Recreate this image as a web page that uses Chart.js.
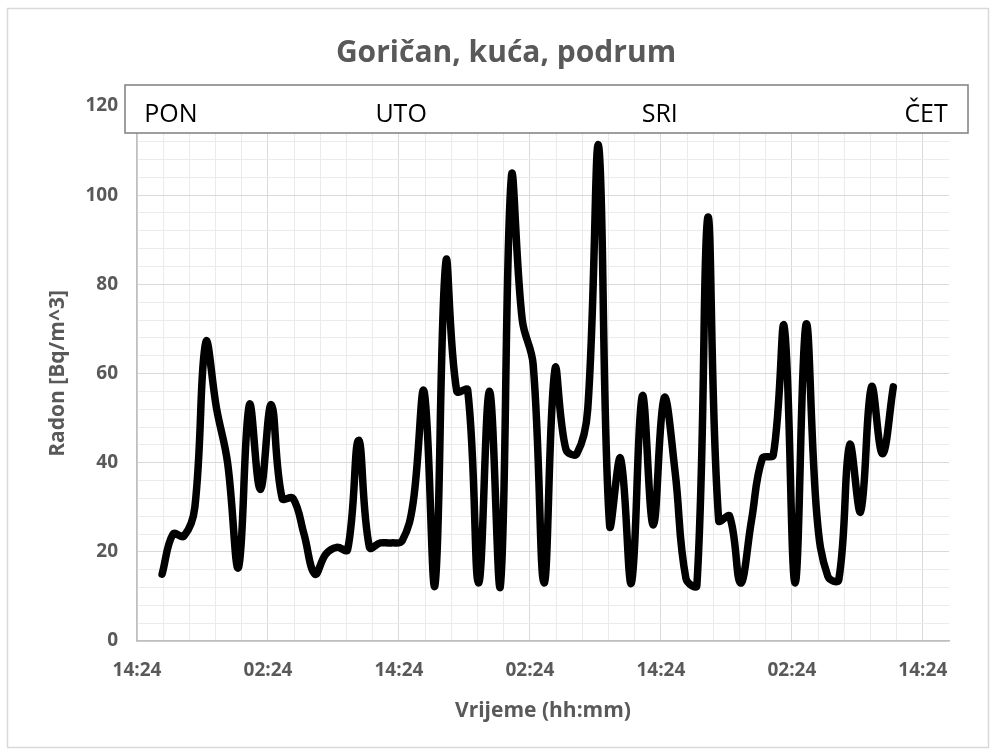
<!DOCTYPE html>
<html>
<head>
<meta charset="utf-8">
<script src="https://cdn.jsdelivr.net/npm/chart.js@4.4.0/dist/chart.umd.min.js"></script>
<style>
html,body{margin:0;padding:0;background:#fff;}
#wrap{width:995px;height:753px;position:relative;}
</style>
</head>
<body>
<div id="wrap"><canvas id="c" width="995" height="753"></canvas></div>
<script>
// ---- data ----
const chartTitle = 'Goričan, kuća, podrum';
const xAxisTitle = 'Vrijeme (hh:mm)';
const yAxisTitle = 'Radon [Bq/m^3]';
const dayLabels = ['PON', 'UTO', 'SRI', 'ČET'];
// sample times in hours since Monday 00:00
const sampleHours = [16.7, 17.7, 18.7, 19.7, 20.7, 21.7, 22.7, 23.7, 24.7, 25.7,
  26.7, 27.7, 28.7, 29.7, 30.7, 31.7, 32.7, 33.7, 34.7, 35.7,
  36.7, 37.7, 38.7, 39.7, 40.7, 41.7, 42.7, 43.7, 44.7, 45.7,
  46.7, 47.7, 48.7, 49.7, 50.7, 51.7, 52.7, 53.7, 54.7, 55.7,
  56.7, 57.7, 58.7, 59.7, 60.7, 61.7, 62.7, 63.7, 64.7, 65.7,
  66.7, 67.7, 68.7, 69.7, 70.7, 71.7, 72.7, 73.7, 74.7, 75.7,
  76.7, 77.7, 78.7, 79.7, 80.7, 81.7, 82.7, 83.7];
// radon concentration [Bq/m^3]
const radon = [15, 24, 23.5, 30, 67, 52, 40, 16.5, 53, 34,
  53, 32, 32, 24, 15, 19.5, 21, 20.5, 45, 21,
  22, 22, 22.5, 31, 56, 12.5, 85, 56, 56.3, 13,
  56, 12.5, 104, 72, 62, 13, 61, 43, 42, 52,
  111, 26, 41, 13, 55, 26, 54.5, 38, 14, 12.5,
  95, 27, 28, 13, 27, 41, 41.7, 70.5, 13, 71,
  28, 14.5, 13.7, 44, 29, 57, 42, 57];
const xTickLabels = ['14:24', '02:24', '14:24', '02:24', '14:24', '02:24', '14:24'];
const yTickLabels = ['0', '20', '40', '60', '80', '100', '120'];

// ---- axis settings (hours) ----
const xMin = 14.4, xMax = 88.8, xMinorStep = 2.4, xMinorPerMajor = 5;
const yMin = 0, yMax = 120, yMinorStep = 4, yMinorPerMajor = 5;

const GRID_MAJOR = '#d9d9d9';
const GRID_MINOR = '#ebebeb';
const TEXT_GRAY = '#595959';
const FONT = "'Open Sans', 'DejaVu Sans', sans-serif";

const bgPlugin = {
  id: 'bg',
  beforeDraw(chart) {
    const c = chart.ctx;
    c.save();
    c.fillStyle = '#ffffff';
    c.fillRect(0, 0, chart.width, chart.height);
    c.strokeStyle = '#d9d9d9';
    c.lineWidth = 1.5;
    c.strokeRect(7.5, 8.5, 981, 739);
    c.fillStyle = TEXT_GRAY;
    c.font = 'bold 30px ' + FONT;
    c.textAlign = 'center';
    c.textBaseline = 'alphabetic';
    c.fillText(chartTitle, 506, 62);
    c.restore();
  }
};

const dayBoxPlugin = {
  id: 'dayBox',
  afterDraw(chart) {
    const a = chart.chartArea;
    const xs = chart.scales.x;
    const c = chart.ctx;
    const left = a.left - 12, right = a.right + 19, top = a.top - 21, bottom = a.top + 27;
    c.save();
    c.fillStyle = '#ffffff';
    c.fillRect(left, top, right - left, bottom - top);
    c.strokeStyle = '#7f7f7f';
    c.lineWidth = 1.5;
    c.strokeRect(left, top, right - left, bottom - top);
    c.fillStyle = '#000000';
    c.font = '25px ' + FONT;
    c.textBaseline = 'alphabetic';
    const anchorHours = [17.5, 38.6, 62.3, 86.7];
    dayLabels.forEach((t, i) => {
      c.textAlign = 'center';
      c.fillText(t, xs.getPixelForValue(anchorHours[i]), a.top + 16);
    });
    c.restore();
  }
};

const points = sampleHours.map((h, i) => ({ x: h, y: radon[i] }));

new Chart(document.getElementById('c'), {
  type: 'line',
  data: {
    datasets: [{
      data: points,
      borderColor: '#000000',
      borderWidth: 7.5,
      pointRadius: 0,
      tension: 0.4,
      fill: false,
      borderCapStyle: 'round',
      borderJoinStyle: 'round'
    }]
  },
  options: {
    responsive: false,
    animation: false,
    devicePixelRatio: 1,
    layout: { padding: { left: 0, right: 46, top: 106, bottom: 0 } },
    plugins: { legend: { display: false }, tooltip: { enabled: false }, title: { display: false } },
    scales: {
      x: {
        type: 'linear',
        min: xMin,
        max: xMax,
        afterBuildTicks(scale) {
          const t = [];
          const n = Math.round((xMax - xMin) / xMinorStep);
          for (let i = 0; i <= n; i++) t.push({ value: xMin + i * xMinorStep });
          scale.ticks = t;
        },
        afterFit(scale) { scale.height = 112; },
        ticks: {
          autoSkip: false, maxRotation: 0, minRotation: 0, padding: 18,
          color: TEXT_GRAY,
          font: { family: FONT, size: 19, weight: 'bold' },
          callback(v, i) { return i % xMinorPerMajor === 0 ? xTickLabels[i / xMinorPerMajor] : ''; }
        },
        grid: {
          drawTicks: false,
          lineWidth: 1,
          color(ctx) {
            const n = Math.round((xMax - xMin) / xMinorStep);
            if (ctx.index === n) return 'rgba(0,0,0,0)';
            return ctx.index % xMinorPerMajor === 0 ? GRID_MAJOR : GRID_MINOR;
          }
        },
        border: { color: '#bfbfbf', width: 1.5 },
        title: {
          display: true, text: xAxisTitle, color: TEXT_GRAY,
          font: { family: FONT, size: 21, weight: 'bold' },
          padding: { top: 0, bottom: 29 }
        }
      },
      y: {
        min: yMin,
        max: yMax,
        afterFit(scale) { scale.width = 137; },
        ticks: {
          stepSize: yMinorStep, autoSkip: false, padding: 19,
          color: TEXT_GRAY,
          font: { family: FONT, size: 19, weight: 'bold' },
          callback(v, i) { return i % yMinorPerMajor === 0 ? yTickLabels[i / yMinorPerMajor] : ''; }
        },
        grid: {
          drawTicks: false,
          lineWidth: 1,
          color(ctx) { return ctx.index % yMinorPerMajor === 0 ? GRID_MAJOR : GRID_MINOR; }
        },
        border: { color: '#bfbfbf', width: 1.5 },
        title: {
          display: true, text: yAxisTitle, color: TEXT_GRAY,
          font: { family: FONT, size: 21, weight: 'bold' },
          padding: { top: 45, bottom: 0 }
        }
      }
    }
  },
  plugins: [bgPlugin, dayBoxPlugin]
});
</script>
</body>
</html>
